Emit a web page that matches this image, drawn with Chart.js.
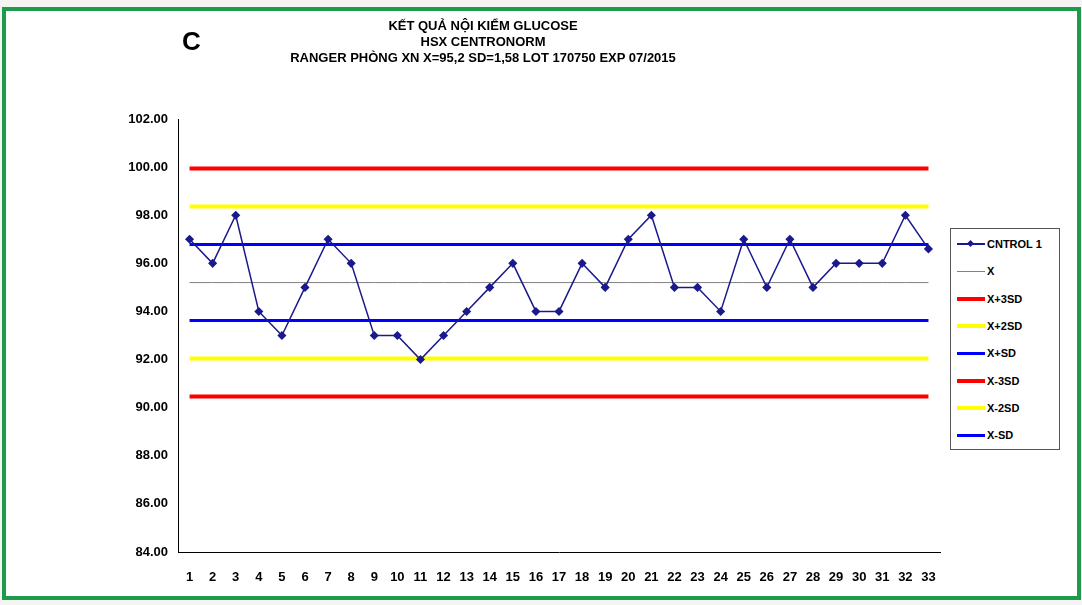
<!DOCTYPE html>
<html>
<head>
<meta charset="utf-8">
<script src="https://cdn.jsdelivr.net/npm/chart.js@4"></script>
<style>
  body { margin: 0; background: #f4f4f4; font-family: "Liberation Sans", Arial, sans-serif; }
  #frame { position: absolute; left: 2px; top: 7px; width: 1071px; height: 585px; border: 4px solid #1c9b48; background: #fff; }
  #wrap { position: absolute; left: 0; top: 0; width: 1082px; height: 605px; }
  #title { position: absolute; left: 233px; top: 18px; width: 500px; text-align: center; font-weight: bold; font-size: 13px; line-height: 16px; }
  #letter { position: absolute; left: 182px; top: 26px; font-weight: bold; font-size: 26px; }
  #legend { position: absolute; left: 950px; top: 228px; width: 108px; height: 220px; border: 1px solid #555; background: #fff; font-weight: bold; font-size: 11px; }
  .item { position: absolute; left: 6px; height: 14px; display: flex; align-items: center; }
  .sw { width: 28px; margin-right: 2px; position: relative; }
</style>
</head>
<body>
<div id="frame"></div>
<div id="wrap"><canvas id="myChart" width="1082" height="605"></canvas></div>
<div id="letter">C</div>
<div id="title">KẾT QUẢ NỘI KIỂM GLUCOSE<br>HSX CENTRONORM<br>RANGER PHÒNG XN X=95,2 SD=1,58 LOT 170750 EXP 07/2015</div>
<div id="legend"></div>
<script>
const categories = ["1","2","3","4","5","6","7","8","9","10","11","12","13","14","15","16","17","18","19","20","21","22","23","24","25","26","27","28","29","30","31","32","33"];
const control1 = [97, 96, 98, 94, 93, 95, 97, 96, 93, 93, 92, 93, 94, 95, 96, 94, 94, 96, 95, 97, 98, 95, 95, 94, 97, 95, 97, 95, 96, 96, 96, 98, 96.6];
const mean = 95.2;
const sd = 1.58;
const yTicks = [84, 86, 88, 90, 92, 94, 96, 98, 100, 102];

const flat = v => categories.map(() => v);
const limits = [
  { label: "X", value: mean, color: "#808080", width: 1 },
  { label: "X+3SD", value: mean + 3 * sd, color: "#ff0000", width: 4 },
  { label: "X+2SD", value: mean + 2 * sd, color: "#ffff00", width: 4 },
  { label: "X+SD", value: mean + sd, color: "#0000ff", width: 3 },
  { label: "X-3SD", value: mean - 3 * sd, color: "#ff0000", width: 4 },
  { label: "X-2SD", value: mean - 2 * sd, color: "#ffff00", width: 4 },
  { label: "X-SD", value: mean - sd, color: "#0000ff", width: 3 },
];

const datasets = [{
  label: "CNTROL 1", data: control1, borderColor: "#1a1a8c", backgroundColor: "#1a1a8c",
  borderWidth: 1.5, pointStyle: "rectRot", pointRadius: 3.5, order: 0,
}];
limits.forEach(l => datasets.push({
  label: l.label, data: flat(l.value), borderColor: l.color, borderWidth: l.width,
  pointRadius: 0, order: 1,
}));

const ctx = document.getElementById("myChart");
new Chart(ctx, {
  type: "line",
  data: { labels: categories, datasets: datasets },
  options: {
    responsive: false, animation: false,
    layout: { padding: { top: 119, right: 142, left: 0, bottom: 0 } },
    plugins: { legend: { display: false }, tooltip: { enabled: false } },
    scales: {
      x: {
        offset: true,
        grid: { display: false, drawTicks: true, offset: true, tickLength: 4, color: "#000" },
        border: { color: "#000" },
        ticks: { color: "#000", font: { family: "Liberation Sans", weight: "bold", size: 13 }, maxRotation: 0, autoSkip: false, padding: 14 },
        afterFit: s => { s.height = 53; },
      },
      y: {
        min: 84, max: 102,
        afterBuildTicks: s => { s.ticks = yTicks.map(v => ({ value: v })); },
        grid: { display: false, drawTicks: true, tickLength: 5, color: "#000" },
        border: { color: "#000" },
        ticks: { color: "#000", font: { family: "Liberation Sans", weight: "bold", size: 13 }, padding: 5, callback: v => v.toFixed(2) },
        afterFit: s => { s.width = 178; },
      },
    },
  },
});

const legend = document.getElementById("legend");
datasets.forEach((d, i) => {
  const it = document.createElement("div");
  it.className = "item";
  it.style.top = (8 + i * 27.3) + "px";
  const sw = document.createElement("div");
  sw.className = "sw";
  sw.style.height = Math.max(d.borderWidth, 1.5) + "px";
  sw.style.background = d.borderColor;
  if (i === 0) {
    const m = document.createElement("div");
    m.style.cssText = "position:absolute;left:11px;top:-2.5px;width:5px;height:5px;background:#1a1a8c;transform:rotate(45deg)";
    sw.appendChild(m);
  }
  it.appendChild(sw);
  it.appendChild(document.createTextNode(d.label));
  legend.appendChild(it);
});
</script>
</body>
</html>
